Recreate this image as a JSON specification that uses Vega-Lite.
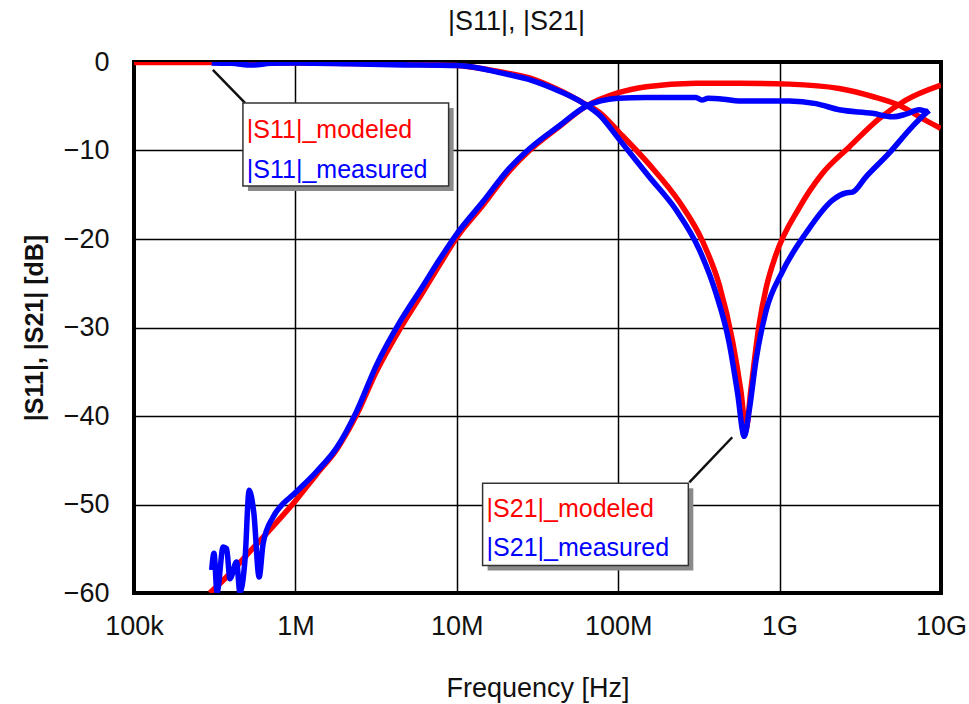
{
  "$schema": "https://vega.github.io/schema/vega-lite/v6.json",
  "width": 807,
  "height": 531,
  "autosize": {"type": "none"},
  "padding": {"left": 134, "top": 62, "right": 28, "bottom": 111},
  "background": "white",
  "title": {
    "text": "|S11|, |S21|",
    "font": "Liberation Sans",
    "fontSize": 27,
    "fontWeight": "normal",
    "color": "#111",
    "frame": "group",
    "anchor": "middle",
    "dx": -21,
    "offset": 12
  },
  "config": {
    "view": {"stroke": "black", "strokeWidth": 4},
    "axis": {
      "domain": false,
      "ticks": false,
      "grid": true,
      "gridColor": "black",
      "gridWidth": 1.5,
      "gridOpacity": 1,
      "labelFont": "Liberation Sans",
      "labelFontSize": 27,
      "labelColor": "#111",
      "titleFont": "Liberation Sans",
      "titleColor": "#111"
    }
  },
  "datasets": {
    "curves": [
      {"series": "|S11|_modeled", "kind": "modeled", "f": 100000, "db": -0.05},
      {"series": "|S11|_modeled", "kind": "modeled", "f": 300000, "db": -0.05},
      {"series": "|S11|_modeled", "kind": "modeled", "f": 1000000, "db": -0.1},
      {"series": "|S11|_modeled", "kind": "modeled", "f": 3000000, "db": -0.2},
      {"series": "|S11|_modeled", "kind": "modeled", "f": 10000000, "db": -0.4},
      {"series": "|S11|_modeled", "kind": "modeled", "f": 13800000, "db": -0.7},
      {"series": "|S11|_modeled", "kind": "modeled", "f": 18400000, "db": -1.1},
      {"series": "|S11|_modeled", "kind": "modeled", "f": 28200000, "db": -1.8},
      {"series": "|S11|_modeled", "kind": "modeled", "f": 43200000, "db": -3.2},
      {"series": "|S11|_modeled", "kind": "modeled", "f": 61700000, "db": -4.7},
      {"series": "|S11|_modeled", "kind": "modeled", "f": 76500000, "db": -5.7},
      {"series": "|S11|_modeled", "kind": "modeled", "f": 102000000, "db": -8.0},
      {"series": "|S11|_modeled", "kind": "modeled", "f": 156000000, "db": -11.6},
      {"series": "|S11|_modeled", "kind": "modeled", "f": 239000000, "db": -15.8},
      {"series": "|S11|_modeled", "kind": "modeled", "f": 334000000, "db": -20.3},
      {"series": "|S11|_modeled", "kind": "modeled", "f": 423000000, "db": -25.2},
      {"series": "|S11|_modeled", "kind": "modeled", "f": 512000000, "db": -31.6},
      {"series": "|S11|_modeled", "kind": "modeled", "f": 576000000, "db": -37.2},
      {"series": "|S11|_modeled", "kind": "modeled", "f": 619000000, "db": -41.5},
      {"series": "|S11|_modeled", "kind": "modeled", "f": 664000000, "db": -37.0},
      {"series": "|S11|_modeled", "kind": "modeled", "f": 748000000, "db": -29.6},
      {"series": "|S11|_modeled", "kind": "modeled", "f": 826000000, "db": -25.5},
      {"series": "|S11|_modeled", "kind": "modeled", "f": 948000000, "db": -21.8},
      {"series": "|S11|_modeled", "kind": "modeled", "f": 1320000000, "db": -16.5},
      {"series": "|S11|_modeled", "kind": "modeled", "f": 1840000000, "db": -12.6},
      {"series": "|S11|_modeled", "kind": "modeled", "f": 2700000000, "db": -9.6},
      {"series": "|S11|_modeled", "kind": "modeled", "f": 4140000000, "db": -6.4},
      {"series": "|S11|_modeled", "kind": "modeled", "f": 6060000000, "db": -4.3},
      {"series": "|S11|_modeled", "kind": "modeled", "f": 10000000000, "db": -2.6},

      {"series": "|S21|_modeled", "kind": "modeled", "f": 295000, "db": -60.0},
      {"series": "|S21|_modeled", "kind": "modeled", "f": 393000, "db": -57.8},
      {"series": "|S21|_modeled", "kind": "modeled", "f": 523000, "db": -55.3},
      {"series": "|S21|_modeled", "kind": "modeled", "f": 724000, "db": -52.5},
      {"series": "|S21|_modeled", "kind": "modeled", "f": 1020000, "db": -49.4},
      {"series": "|S21|_modeled", "kind": "modeled", "f": 1350000, "db": -46.6},
      {"series": "|S21|_modeled", "kind": "modeled", "f": 1800000, "db": -43.8},
      {"series": "|S21|_modeled", "kind": "modeled", "f": 2390000, "db": -39.9},
      {"series": "|S21|_modeled", "kind": "modeled", "f": 3170000, "db": -35.0},
      {"series": "|S21|_modeled", "kind": "modeled", "f": 4430000, "db": -30.2},
      {"series": "|S21|_modeled", "kind": "modeled", "f": 6170000, "db": -26.0},
      {"series": "|S21|_modeled", "kind": "modeled", "f": 7830000, "db": -22.9},
      {"series": "|S21|_modeled", "kind": "modeled", "f": 9930000, "db": -19.9},
      {"series": "|S21|_modeled", "kind": "modeled", "f": 14500000, "db": -16.2},
      {"series": "|S21|_modeled", "kind": "modeled", "f": 21200000, "db": -12.3},
      {"series": "|S21|_modeled", "kind": "modeled", "f": 28200000, "db": -10.0},
      {"series": "|S21|_modeled", "kind": "modeled", "f": 43200000, "db": -7.3},
      {"series": "|S21|_modeled", "kind": "modeled", "f": 63300000, "db": -5.0},
      {"series": "|S21|_modeled", "kind": "modeled", "f": 99300000, "db": -3.5},
      {"series": "|S21|_modeled", "kind": "modeled", "f": 149000000, "db": -2.8},
      {"series": "|S21|_modeled", "kind": "modeled", "f": 303000000, "db": -2.4},
      {"series": "|S21|_modeled", "kind": "modeled", "f": 562000000, "db": -2.4},
      {"series": "|S21|_modeled", "kind": "modeled", "f": 1150000000, "db": -2.5},
      {"series": "|S21|_modeled", "kind": "modeled", "f": 2340000000, "db": -3.0},
      {"series": "|S21|_modeled", "kind": "modeled", "f": 3760000000, "db": -3.9},
      {"series": "|S21|_modeled", "kind": "modeled", "f": 5500000000, "db": -4.9},
      {"series": "|S21|_modeled", "kind": "modeled", "f": 8040000000, "db": -6.6},
      {"series": "|S21|_modeled", "kind": "modeled", "f": 9950000000, "db": -7.5},

      {"series": "|S11|_measured", "kind": "measured", "f": 303000, "db": -0.1},
      {"series": "|S11|_measured", "kind": "measured", "f": 400000, "db": -0.15},
      {"series": "|S11|_measured", "kind": "measured", "f": 545000, "db": -0.35},
      {"series": "|S11|_measured", "kind": "measured", "f": 700000, "db": -0.15},
      {"series": "|S11|_measured", "kind": "measured", "f": 1000000, "db": -0.1},
      {"series": "|S11|_measured", "kind": "measured", "f": 2170000, "db": -0.2},
      {"series": "|S11|_measured", "kind": "measured", "f": 4000000, "db": -0.3},
      {"series": "|S11|_measured", "kind": "measured", "f": 10000000, "db": -0.4},
      {"series": "|S11|_measured", "kind": "measured", "f": 13800000, "db": -0.7},
      {"series": "|S11|_measured", "kind": "measured", "f": 18400000, "db": -1.2},
      {"series": "|S11|_measured", "kind": "measured", "f": 29400000, "db": -2.1},
      {"series": "|S11|_measured", "kind": "measured", "f": 43200000, "db": -3.3},
      {"series": "|S11|_measured", "kind": "measured", "f": 60000000, "db": -4.6},
      {"series": "|S11|_measured", "kind": "measured", "f": 76500000, "db": -6.0},
      {"series": "|S11|_measured", "kind": "measured", "f": 102000000, "db": -8.8},
      {"series": "|S11|_measured", "kind": "measured", "f": 156000000, "db": -13.0},
      {"series": "|S11|_measured", "kind": "measured", "f": 228000000, "db": -16.7},
      {"series": "|S11|_measured", "kind": "measured", "f": 318000000, "db": -21.2},
      {"series": "|S11|_measured", "kind": "measured", "f": 403000000, "db": -26.1},
      {"series": "|S11|_measured", "kind": "measured", "f": 488000000, "db": -31.8},
      {"series": "|S11|_measured", "kind": "measured", "f": 549000000, "db": -37.4},
      {"series": "|S11|_measured", "kind": "measured", "f": 604000000, "db": -42.3},
      {"series": "|S11|_measured", "kind": "measured", "f": 649000000, "db": -39.3},
      {"series": "|S11|_measured", "kind": "measured", "f": 714000000, "db": -33.7},
      {"series": "|S11|_measured", "kind": "measured", "f": 822000000, "db": -28.2},
      {"series": "|S11|_measured", "kind": "measured", "f": 1040000000, "db": -23.7},
      {"series": "|S11|_measured", "kind": "measured", "f": 1460000000, "db": -19.3},
      {"series": "|S11|_measured", "kind": "measured", "f": 2130000000, "db": -15.6},
      {"series": "|S11|_measured", "kind": "measured", "f": 2570000000, "db": -14.8},
      {"series": "|S11|_measured", "kind": "measured", "f": 2830000000, "db": -14.7},
      {"series": "|S11|_measured", "kind": "measured", "f": 3420000000, "db": -13.0},
      {"series": "|S11|_measured", "kind": "measured", "f": 4770000000, "db": -10.3},
      {"series": "|S11|_measured", "kind": "measured", "f": 6640000000, "db": -7.3},
      {"series": "|S11|_measured", "kind": "measured", "f": 8040000000, "db": -5.8},
      {"series": "|S11|_measured", "kind": "measured", "f": 8430000000, "db": -5.5},

      {"series": "|S21|_measured", "kind": "measured", "f": 303000, "db": -57.4},
      {"series": "|S21|_measured", "kind": "measured", "f": 313000, "db": -55.5},
      {"series": "|S21|_measured", "kind": "measured", "f": 327000, "db": -59.9},
      {"series": "|S21|_measured", "kind": "measured", "f": 357000, "db": -54.8},
      {"series": "|S21|_measured", "kind": "measured", "f": 375000, "db": -55.0},
      {"series": "|S21|_measured", "kind": "measured", "f": 393000, "db": -58.4},
      {"series": "|S21|_measured", "kind": "measured", "f": 432000, "db": -56.5},
      {"series": "|S21|_measured", "kind": "measured", "f": 453000, "db": -59.9},
      {"series": "|S21|_measured", "kind": "measured", "f": 487000, "db": -56.3},
      {"series": "|S21|_measured", "kind": "measured", "f": 517000, "db": -48.4},
      {"series": "|S21|_measured", "kind": "measured", "f": 553000, "db": -51.0},
      {"series": "|S21|_measured", "kind": "measured", "f": 596000, "db": -58.2},
      {"series": "|S21|_measured", "kind": "measured", "f": 631000, "db": -54.4},
      {"series": "|S21|_measured", "kind": "measured", "f": 728000, "db": -51.4},
      {"series": "|S21|_measured", "kind": "measured", "f": 839000, "db": -49.9},
      {"series": "|S21|_measured", "kind": "measured", "f": 968000, "db": -48.9},
      {"series": "|S21|_measured", "kind": "measured", "f": 1090000, "db": -48.0},
      {"series": "|S21|_measured", "kind": "measured", "f": 1350000, "db": -46.3},
      {"series": "|S21|_measured", "kind": "measured", "f": 1800000, "db": -43.6},
      {"series": "|S21|_measured", "kind": "measured", "f": 2390000, "db": -39.5},
      {"series": "|S21|_measured", "kind": "measured", "f": 3170000, "db": -34.3},
      {"series": "|S21|_measured", "kind": "measured", "f": 4430000, "db": -29.4},
      {"series": "|S21|_measured", "kind": "measured", "f": 6170000, "db": -25.3},
      {"series": "|S21|_measured", "kind": "measured", "f": 7830000, "db": -22.3},
      {"series": "|S21|_measured", "kind": "measured", "f": 9930000, "db": -19.5},
      {"series": "|S21|_measured", "kind": "measured", "f": 14500000, "db": -15.8},
      {"series": "|S21|_measured", "kind": "measured", "f": 21200000, "db": -12.0},
      {"series": "|S21|_measured", "kind": "measured", "f": 28200000, "db": -9.8},
      {"series": "|S21|_measured", "kind": "measured", "f": 43200000, "db": -7.2},
      {"series": "|S21|_measured", "kind": "measured", "f": 63300000, "db": -5.0},
      {"series": "|S21|_measured", "kind": "measured", "f": 99300000, "db": -4.1},
      {"series": "|S21|_measured", "kind": "measured", "f": 149000000, "db": -4.0},
      {"series": "|S21|_measured", "kind": "measured", "f": 303000000, "db": -4.0},
      {"series": "|S21|_measured", "kind": "measured", "f": 330000000, "db": -4.3},
      {"series": "|S21|_measured", "kind": "measured", "f": 360000000, "db": -4.1},
      {"series": "|S21|_measured", "kind": "measured", "f": 450000000, "db": -4.2},
      {"series": "|S21|_measured", "kind": "measured", "f": 562000000, "db": -4.4},
      {"series": "|S21|_measured", "kind": "measured", "f": 1150000000, "db": -4.4},
      {"series": "|S21|_measured", "kind": "measured", "f": 1680000000, "db": -4.7},
      {"series": "|S21|_measured", "kind": "measured", "f": 2340000000, "db": -5.4},
      {"series": "|S21|_measured", "kind": "measured", "f": 3760000000, "db": -5.8},
      {"series": "|S21|_measured", "kind": "measured", "f": 5000000000, "db": -6.2},
      {"series": "|S21|_measured", "kind": "measured", "f": 6060000000, "db": -5.9},
      {"series": "|S21|_measured", "kind": "measured", "f": 7320000000, "db": -5.4},
      {"series": "|S21|_measured", "kind": "measured", "f": 8230000000, "db": -5.6},
      {"series": "|S21|_measured", "kind": "measured", "f": 8430000000, "db": -5.5}
    ],
    "leaders": [
      {"f1": 308000, "d1": -0.9, "f2": 487000, "d2": -4.63},
      {"f1": 276000000, "d1": -47.5, "f2": 509000000, "d2": -42.4}
    ],
    "boxes": [
      {"f1": 473000, "f2": 8900000, "d1": -4.63, "d2": -14.0, "sf1": 508000, "sf2": 9560000, "sd1": -5.2, "sd2": -14.57},
      {"f1": 14450000, "f2": 272000000, "d1": -47.6, "d2": -56.9, "sf1": 15520000, "sf2": 292000000, "sd1": -48.17, "sd2": -57.47}
    ],
    "labels": [
      {"f": 500000, "db": -7.7, "label": "|S11|_modeled", "kind": "modeled"},
      {"f": 500000, "db": -12.2, "label": "|S11|_measured", "kind": "measured"},
      {"f": 15300000, "db": -50.5, "label": "|S21|_modeled", "kind": "modeled"},
      {"f": 15300000, "db": -54.9, "label": "|S21|_measured", "kind": "measured"}
    ]
  },
  "layer": [
    {
      "data": {"name": "curves"},
      "mark": {"type": "line", "strokeWidth": 5.5, "clip": true, "interpolate": "monotone"},
      "encoding": {
        "x": {
          "field": "f", "type": "quantitative",
          "scale": {"type": "log", "domain": [100000, 10000000000], "nice": false},
          "axis": {
            "values": [100000, 1000000, 10000000, 100000000, 1000000000, 10000000000],
            "labelExpr": "datum.value >= 1e9 ? format(datum.value/1e9,'d')+'G' : datum.value >= 1e6 ? format(datum.value/1e6,'d')+'M' : format(datum.value/1e3,'d')+'k'",
            "labelPadding": 20,
            "labelFlush": false,
            "title": "Frequency [Hz]",
            "titleFontSize": 27,
            "titleFontWeight": "normal",
            "titlePadding": 36
          }
        },
        "y": {
          "field": "db", "type": "quantitative",
          "scale": {"domain": [-60, 0], "nice": false},
          "axis": {
            "values": [-60, -50, -40, -30, -20, -10, 0],
            "labelPadding": 25,
            "title": "|S11|, |S21| [dB]",
            "titleFontSize": 25,
            "titleFontWeight": "bold",
            "titlePadding": 16
          }
        },
        "detail": {"field": "series"},
        "color": {
          "field": "kind", "type": "nominal",
          "scale": {"domain": ["modeled", "measured"], "range": ["#ff0000", "#0000ff"]},
          "legend": null
        }
      }
    },
    {
      "data": {"name": "leaders"},
      "mark": {"type": "rule", "color": "#111", "strokeWidth": 2.5},
      "encoding": {
        "x": {"field": "f1", "type": "quantitative"},
        "x2": {"field": "f2"},
        "y": {"field": "d1", "type": "quantitative"},
        "y2": {"field": "d2"}
      }
    },
    {
      "data": {"name": "boxes"},
      "mark": {"type": "rect", "fill": "#8a8a8a"},
      "encoding": {
        "x": {"field": "sf1", "type": "quantitative"},
        "x2": {"field": "sf2"},
        "y": {"field": "sd1", "type": "quantitative"},
        "y2": {"field": "sd2"}
      }
    },
    {
      "data": {"name": "boxes"},
      "mark": {"type": "rect", "fill": "white", "stroke": "#333", "strokeWidth": 1.5},
      "encoding": {
        "x": {"field": "f1", "type": "quantitative"},
        "x2": {"field": "f2"},
        "y": {"field": "d1", "type": "quantitative"},
        "y2": {"field": "d2"}
      }
    },
    {
      "data": {"name": "labels"},
      "mark": {"type": "text", "align": "left", "baseline": "middle", "font": "Liberation Sans", "fontSize": 25},
      "encoding": {
        "x": {"field": "f", "type": "quantitative"},
        "y": {"field": "db", "type": "quantitative"},
        "text": {"field": "label"},
        "color": {"field": "kind", "type": "nominal", "legend": null}
      }
    }
  ]
}
